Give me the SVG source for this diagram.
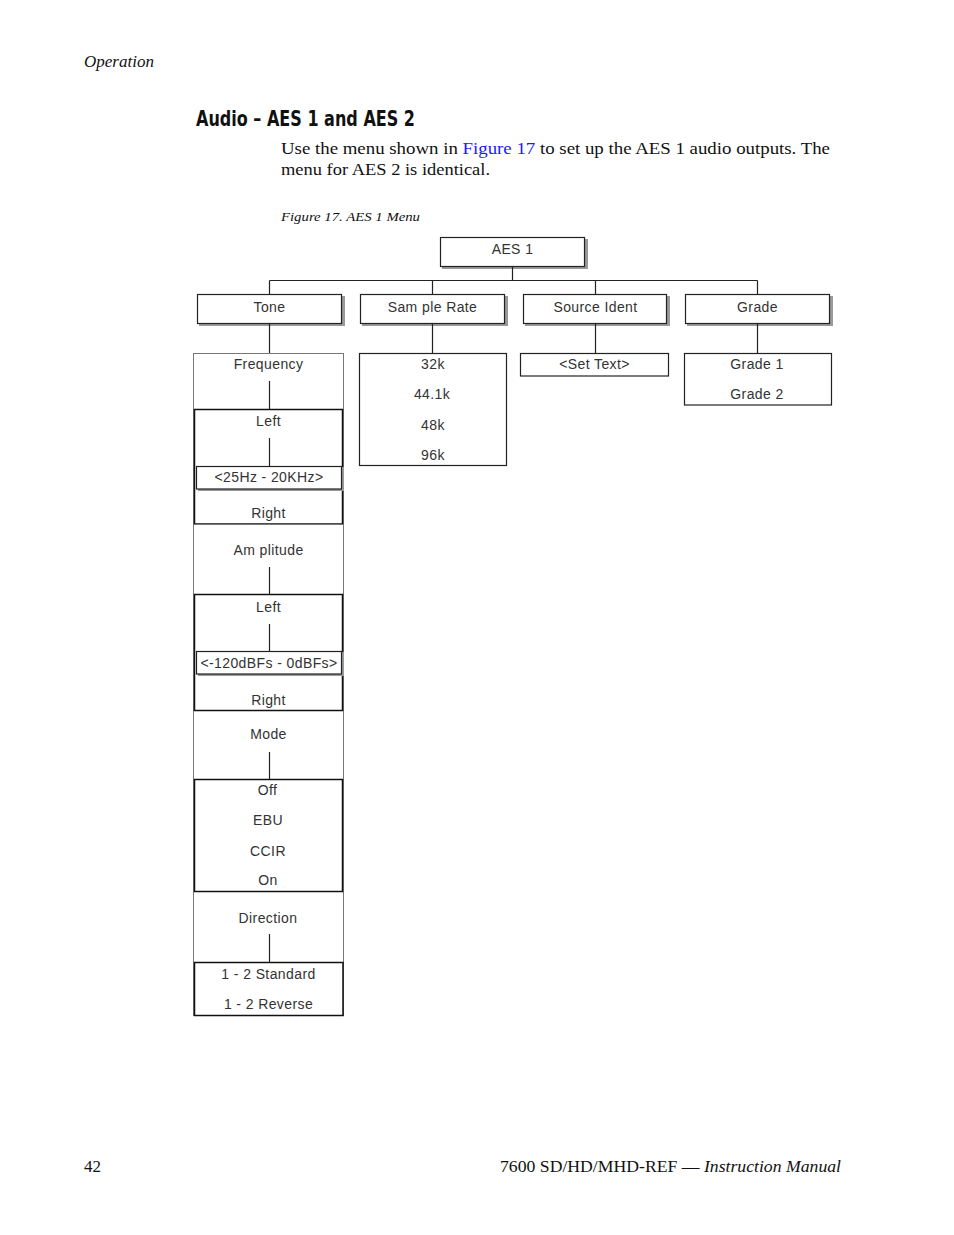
<svg xmlns="http://www.w3.org/2000/svg" width="954" height="1235" viewBox="0 0 954 1235">
<style>
.page{font-family:"Liberation Serif","Times New Roman",serif;fill:#111}
.t{font-family:"Liberation Sans",Arial,sans-serif;font-size:14px;letter-spacing:0.4px;fill:#333;text-anchor:middle}
.box{fill:#fff;stroke:#222;stroke-width:1.2}
.sh{fill:#9a9a9a}
.sec{fill:#fff;stroke:#777;stroke-width:1}
.kid{fill:none;stroke:#111;stroke-width:1.5}
.ln{stroke:#222;stroke-width:1.2;fill:none}
</style>
<rect width="954" height="1235" fill="#fff"/>
<text class="page" x="84" y="67" font-size="17" font-style="italic">Operation</text>
<text x="196" y="126" font-family="'Liberation Sans Narrow','DejaVu Sans Condensed','Liberation Sans',sans-serif" font-weight="bold" font-size="22" textLength="219" lengthAdjust="spacingAndGlyphs" fill="#111">Audio – AES 1 and AES 2</text>
<text class="page" x="281" y="154" font-size="17" textLength="549" lengthAdjust="spacingAndGlyphs">Use the menu shown in <tspan fill="#1a1aff">Figure 17</tspan> to set up the AES 1 audio outputs. The</text>
<text class="page" x="281" y="175" font-size="17" textLength="209" lengthAdjust="spacingAndGlyphs">menu for AES 2 is identical.</text>
<text class="page" x="281" y="221" font-size="13" font-style="italic" textLength="139" lengthAdjust="spacingAndGlyphs">Figure 17.  AES 1 Menu</text>

<g id="aes1"><rect class="sh" x="442" y="239" width="146" height="30"/><rect class="box" x="440.5" y="237.5" width="144" height="29"/><text class="t" x="512.5" y="254">AES 1</text></g>
<g id="tone"><rect class="sh" x="199" y="296" width="146" height="30"/><rect class="box" x="197.5" y="294.5" width="144" height="29"/><text class="t" x="269.5" y="312">Tone</text></g>
<g id="samplerate"><rect class="sh" x="362" y="296" width="146" height="30"/><rect class="box" x="360.5" y="294.5" width="144" height="29"/><text class="t" x="432.5" y="312">Sam ple Rate</text></g>
<g id="sourceident"><rect class="sh" x="525" y="296" width="145" height="30"/><rect class="box" x="523.5" y="294.5" width="143" height="29"/><text class="t" x="595.5" y="312">Source Ident</text></g>
<g id="grade"><rect class="sh" x="687" y="296" width="146" height="30"/><rect class="box" x="685.5" y="294.5" width="144" height="29"/><text class="t" x="757.5" y="312">Grade</text></g>

<g id="tone-column">
<rect class="sec" x="193.5" y="353.5" width="150" height="662"/>
<text class="t" x="268.5" y="369">Frequency</text>
<rect class="kid" x="194.5" y="409.5" width="148" height="114.5"/>
<text class="t" x="268.5" y="426">Left</text>
<rect class="sh" x="198" y="467" width="146" height="24"/>
<rect class="box" x="196.5" y="466.5" width="145" height="22.5"/>
<text class="t" x="269" y="482">&lt;25Hz - 20KHz&gt;</text>
<text class="t" x="268.5" y="518">Right</text>
<line x1="193.5" y1="524.5" x2="343.5" y2="524.5" stroke="#777"/>
<text class="t" x="268.5" y="555">Am plitude</text>
<rect class="kid" x="194.5" y="594.5" width="148" height="116"/>
<text class="t" x="268.5" y="612">Left</text>
<rect class="sh" x="198" y="652" width="146" height="24"/>
<rect class="box" x="196.5" y="651.5" width="145" height="22.5"/>
<text class="t" x="269" y="668">&lt;-120dBFs - 0dBFs&gt;</text>
<text class="t" x="268.5" y="705">Right</text>
<text class="t" x="268.5" y="739">Mode</text>
<rect class="kid" x="194.5" y="779.5" width="148" height="112"/>
<text class="t" x="267.5" y="795">Off</text>
<text class="t" x="268" y="825">EBU</text>
<text class="t" x="268" y="856">CCIR</text>
<text class="t" x="268" y="885">On</text>
<text class="t" x="268" y="923">Direction</text>
<rect class="kid" x="194.5" y="962.5" width="148.5" height="53"/>
<text class="t" x="268.5" y="979">1 - 2 Standard</text>
<text class="t" x="268.5" y="1009">1 - 2 Reverse</text>
</g>

<g id="samplerate-options">
<rect class="box" x="359.5" y="353.5" width="147" height="112"/>
<text class="t" x="433" y="369">32k</text>
<text class="t" x="432" y="399">44.1k</text>
<text class="t" x="433" y="430">48k</text>
<text class="t" x="433" y="460">96k</text>
</g>
<g id="settext">
<rect class="box" x="520.5" y="353.5" width="148" height="22.5"/>
<text class="t" x="594.5" y="369">&lt;Set Text&gt;</text>
</g>
<g id="grade-options">
<rect class="box" x="684.5" y="353.5" width="147" height="51.5"/>
<text class="t" x="757" y="369">Grade 1</text>
<text class="t" x="757" y="399">Grade 2</text>
</g>

<g id="connectors">
<path class="ln" d="M512.5 267V280.5M269.5 280.5H757.5M269.5 280.5V294M432.5 280.5V294M595.5 280.5V294M757.5 280.5V294"/>
<path class="ln" d="M269.5 324V353M432.5 324V353M595.5 324V353M757.5 324V353"/>
<path class="ln" d="M269.5 381V409M269.5 438V466M269.5 567V594M269.5 624V651M269.5 752V779M269.5 934V962"/>
</g>

<text class="page" x="84" y="1172" font-size="17">42</text>
<text class="page" x="841" y="1172" font-size="17" text-anchor="end" textLength="341" lengthAdjust="spacingAndGlyphs">7600 SD/HD/MHD-REF — <tspan font-style="italic">Instruction Manual</tspan></text>
</svg>
